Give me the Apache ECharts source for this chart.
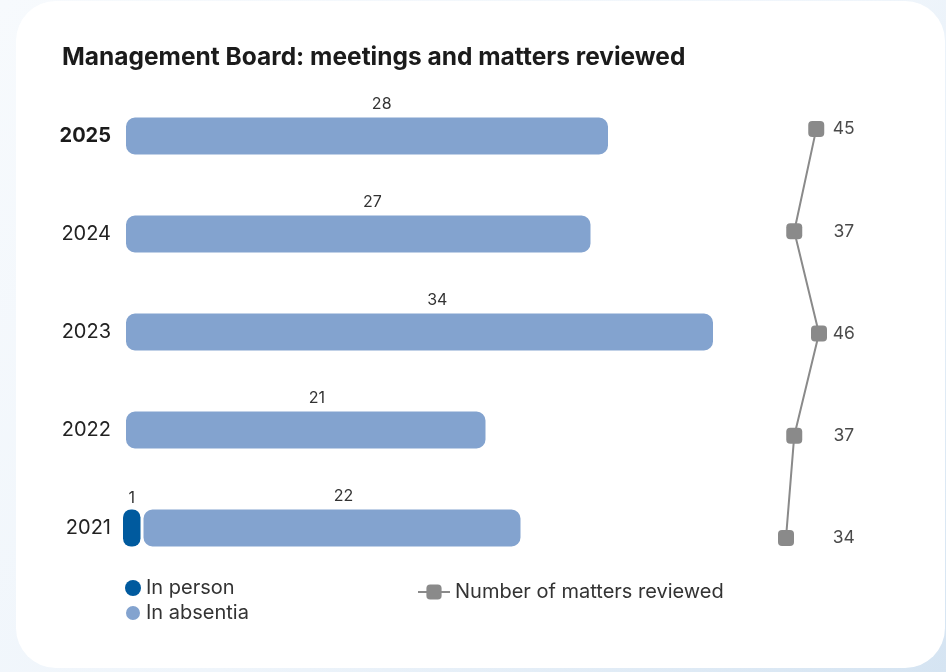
<!DOCTYPE html>
<html>
<head>
<meta charset="utf-8">
<script src="https://cdn.jsdelivr.net/npm/echarts@6/dist/echarts.min.js"></script>
<style>
  html, body { margin:0; padding:0; width:946px; height:672px; overflow:hidden;
    background: linear-gradient(135deg, #f7fafd 0%, #eff5fb 55%, #d5e4f2 100%); }
  #card { position:absolute; left:16px; top:1px; width:929px; height:667px; border-radius:40px; background:#ffffff; }
  #chart { position:absolute; left:0; top:0; width:946px; height:672px; }
</style>
</head>
<body>
<div id="card"></div>
<div id="chart"></div>
<script>
const years = ['2021', '2022', '2023', '2024', '2025'];
const inPerson = [1, null, null, null, null];
const inAbsentia = [22, 21, 34, 27, 28];
const matters = [34, 37, 46, 37, 45];
const labelColumn = 55;

const FONT = 'Inter, "Noto Sans", sans-serif';
const chart = echarts.init(document.getElementById('chart'), null, { renderer: 'canvas' });

const option = {
  backgroundColor: 'transparent',
  animation: false,
  title: {
    text: 'Management Board: meetings and matters reviewed',
    left: 57, top: 40,
    textStyle: { fontFamily: FONT, fontSize: 24.5, fontWeight: 'bold', color: '#1b1b1b' }
  },
  legend: [
    {
      data: ['In person', 'In absentia'],
      orient: 'vertical', left: 119, top: 573, itemGap: 5,
      icon: 'circle', itemWidth: 16, itemHeight: 16,
      textStyle: { fontFamily: FONT, fontSize: 20, color: '#333' }
    },
    {
      data: ['Number of matters reviewed'],
      left: 412, top: 577,
      itemWidth: 32, itemHeight: 19,
      textStyle: { fontFamily: FONT, fontSize: 20, color: '#333' }
    }
  ],
  grid: [
    { left: 122, top: 87, width: 700, height: 490 },
    { left: 775, top: 78, width: 82.5, height: 511 },
    { left: 123, top: 87, width: 700, height: 490 }
  ],
  xAxis: [
    { gridIndex: 0, type: 'value', min: 0, max: 40, show: false },
    { gridIndex: 1, type: 'value', min: 30, max: 60, show: false },
    { gridIndex: 2, type: 'value', min: 0, max: 40, show: false }
  ],
  yAxis: [
    {
      gridIndex: 0, type: 'category', data: years,
      axisLine: { show: false }, axisTick: { show: false },
      axisLabel: {
        margin: 11, fontFamily: FONT, fontSize: 20, color: '#222',
        formatter: function (v, i) { return i === years.length - 1 ? '{b|' + v + '}' : v; },
        rich: { b: { fontFamily: FONT, fontSize: 20, fontWeight: 'bold', color: '#1b1b1b' } }
      }
    },
    { gridIndex: 1, type: 'category', data: years, show: false },
    { gridIndex: 2, type: 'category', data: years, show: false }
  ],
  series: [
    {
      name: '_inPersonOffset', type: 'bar', stack: 'm', xAxisIndex: 0, yAxisIndex: 0,
      data: inPerson, barWidth: 45, silent: true,
      itemStyle: { color: 'rgba(0,0,0,0)' }
    },
    {
      name: 'In absentia', type: 'bar', stack: 'm', xAxisIndex: 0, yAxisIndex: 0,
      data: inAbsentia, barWidth: 45,
      itemStyle: { color: '#83a3cf', borderRadius: 11, borderColor: '#ffffff', borderWidth: 4 },
      label: { show: true, position: ['53%', -1], align: 'center', verticalAlign: 'bottom',
        fontFamily: FONT, fontSize: 16, color: '#333' }
    },
    {
      name: 'In person', type: 'bar', xAxisIndex: 2, yAxisIndex: 2,
      data: inPerson, barWidth: 37,
      itemStyle: { color: '#005a9e', borderRadius: 8 },
      label: { show: true, position: 'top', distance: 3, fontFamily: FONT, fontSize: 16, color: '#333' }
    },
    {
      name: 'Number of matters reviewed', type: 'line', xAxisIndex: 1, yAxisIndex: 1,
      data: matters.map((v, i) => [v, years[i]]),
      symbol: 'roundRect', symbolSize: 16,
      itemStyle: { color: '#8a8a8a' },
      lineStyle: { color: '#8a8a8a', width: 2 },
      label: { show: false }
    },
    {
      name: 'labels', type: 'scatter', xAxisIndex: 1, yAxisIndex: 1,
      data: matters.map((v, i) => [labelColumn, years[i], v]),
      symbolSize: 0, silent: true,
      label: {
        show: true, position: 'inside', fontFamily: FONT, fontSize: 17.5, color: '#1c1c1c',
        formatter: function (p) { return p.value[2]; }
      }
    }
  ]
};
chart.setOption(option);
</script>
</body>
</html>
